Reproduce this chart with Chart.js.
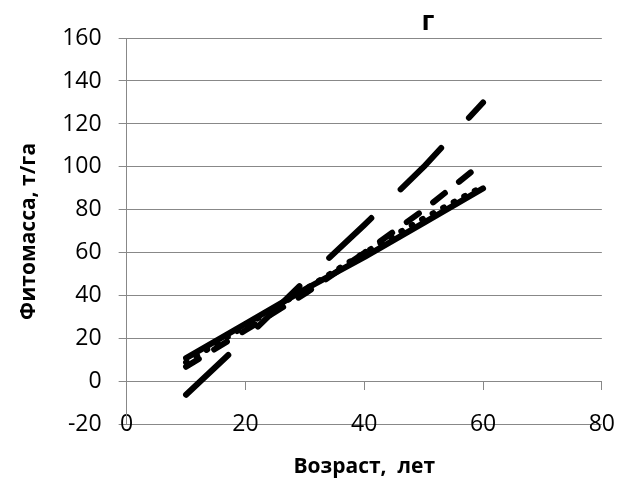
<!DOCTYPE html>
<html>
<head>
<meta charset="utf-8">
<script src="https://cdn.jsdelivr.net/npm/chart.js@4/dist/chart.umd.min.js"></script>
<style>
  html, body { margin: 0; padding: 0; background: #fff; }
  #wrap { width: 636px; height: 484px; position: relative; }
</style>
</head>
<body>
<div id="wrap"><canvas id="c"></canvas></div>
<script>
// ---- data ----
const ages = [10, 20, 30, 40, 50, 60];
const solidSeries = [11, 27, 43, 58, 74, 90];
const mediumDashSeries = [7, 24, 41, 60, 80, 102];
const dottedSeries = [9, 26, 43, 60, 76, 91];
const longDashSeries = [-6, 20, 47, 73, 100, 130];
const xTicks = [0, 20, 40, 60, 80];
const yTicks = [-20, 0, 20, 40, 60, 80, 100, 120, 140, 160];
const chartTitle = 'г';
const xTitle = 'Возраст,  лет';
const yTitle = 'Фитомасса, т/га';

function pts(ys) { return ages.map((x, i) => ({ x: x, y: ys[i] })); }

const GRID = '#888888';
const FONT = "'Open Sans', 'DejaVu Sans', sans-serif";

const cornerTitle = {
  id: 'cornerTitle',
  afterDraw(chart) {
    const a = chart.chartArea;
    const ctx = chart.ctx;
    ctx.save();
    ctx.font = "bold 27px " + FONT;
    ctx.fillStyle = '#000';
    ctx.textAlign = 'center';
    ctx.textBaseline = 'alphabetic';
    ctx.fillText(chartTitle, a.left + (a.right - a.left) * 0.634, a.top - 8);
    ctx.restore();
  }
};

function ds(data, dash) {
  return {
    data: pts(data),
    showLine: true,
    borderColor: '#000',
    backgroundColor: '#000',
    borderWidth: 6,
    borderDash: dash,
    borderCapStyle: 'round',
    borderJoinStyle: 'round',
    pointRadius: 0,
    tension: 0,
    fill: false
  };
}

new Chart(document.getElementById('c'), {
  type: 'scatter',
  data: {
    datasets: [
      ds(solidSeries, []),
      ds(dottedSeries, [1, 11]),
      ds(mediumDashSeries, [15, 18]),
      ds(longDashSeries, [58, 41])
    ]
  },
  options: {
    responsive: true,
    maintainAspectRatio: false,
    animation: false,
    layout: { padding: { left: 12, right: 31, top: 38, bottom: 0 } },
    plugins: {
      legend: { display: false },
      tooltip: { enabled: false },
      title: {
        display: true,
        position: 'bottom',
        fullSize: false,
        text: xTitle,
        color: '#000',
        font: { family: FONT, size: 21, weight: 'bold', lineHeight: 1.2 },
        padding: { top: 30, bottom: 4 }
      }
    },
    scales: {
      x: {
        type: 'linear',
        position: { y: 0 },
        min: 0, max: 80,
        afterBuildTicks(scale) { scale.ticks = xTicks.map(v => ({ value: v })); },
        grid: { drawOnChartArea: false, drawTicks: true, tickLength: 8, color: GRID },
        border: { display: true, color: GRID, width: 1 },
        ticks: { color: '#000', padding: 21, font: { family: FONT, size: 23 }, maxRotation: 0 }
      },
      y: {
        type: 'linear',
        position: 'left',
        min: -20, max: 160,
        afterBuildTicks(scale) { scale.ticks = yTicks.map(v => ({ value: v })); },
        grid: { color: GRID, tickLength: 8, lineWidth: 1 },
        border: { display: true, color: GRID, width: 1 },
        ticks: { color: '#000', padding: 17, font: { family: FONT, size: 23 } },
        title: {
          display: true,
          text: yTitle,
          color: '#000',
          font: { family: FONT, size: 21, weight: 'bold', lineHeight: 1.2 },
          padding: { top: 4, bottom: 4 }
        }
      }
    }
  },
  plugins: [cornerTitle]
});
</script>
</body>
</html>
